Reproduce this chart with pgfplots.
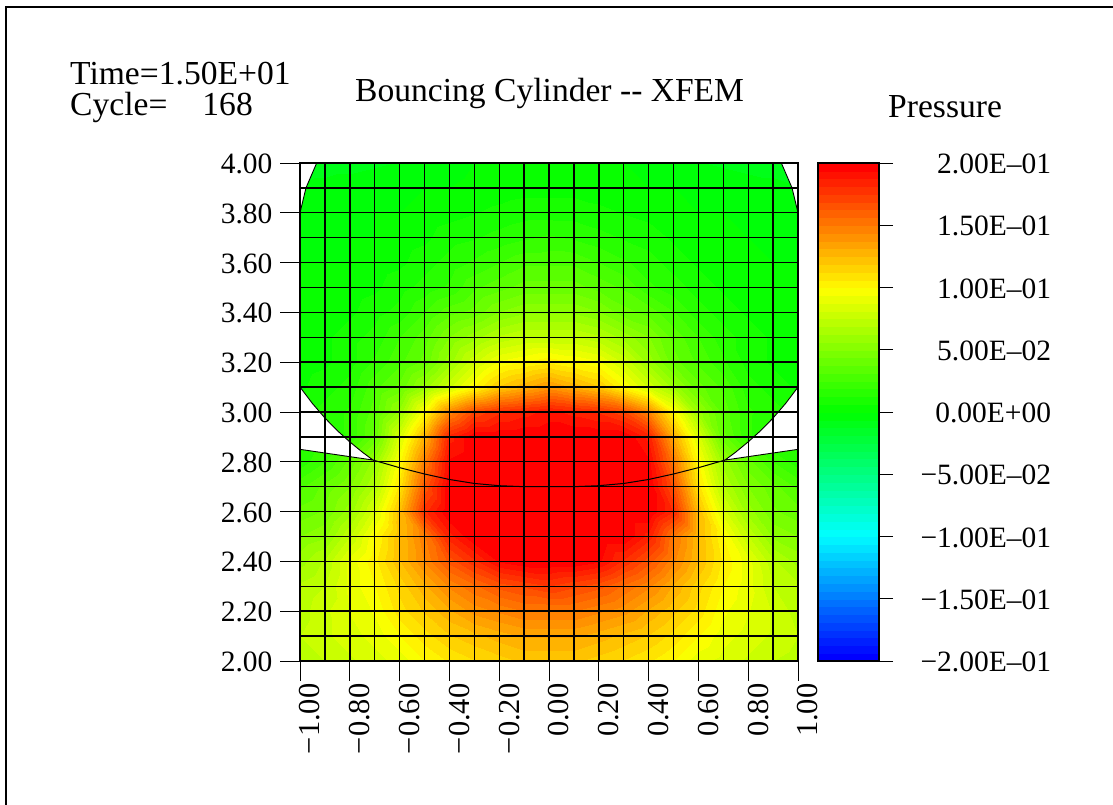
\documentclass[border=0pt]{standalone}
\usepackage{pgfplots}
\pgfplotsset{compat=1.18}
\usepackage{fontspec}
\setmainfont{Liberation Serif}
\pgfplotsset{
  colormap={rb0}{rgb255(0)=(0,0,255) rgb255(1)=(0,255,255) rgb255(2)=(0,255,0) rgb255(3)=(255,255,0) rgb255(4)=(255,0,0)},
  colormap={rb}{samples of colormap=(64 of rb0)},
}
\newcommand{\fs}{\fontsize{29.6}{36}\selectfont}
\newcommand{\fx}{\fontsize{30.6}{36}\selectfont}
\newcommand{\ft}{\fontsize{33.7}{38}\selectfont}
\begin{document}
\begin{tikzpicture}[x=1bp,y=1bp]
\useasboundingbox (0,0) rectangle (1113,805);
\draw[black,line width=2bp] (5.7,0) -- (5.7,798) -- (1113,798);
\begin{axis}[
  at={(300bp,144bp)},anchor=south west,
  scale only axis,width=498bp,height=498bp,
  xmin=-1,xmax=1,ymin=2,ymax=4,
  colormap name=rb,colormap access=piecewise constant,
  point meta min=-0.2,point meta max=0.2,
  xtick={-1,-0.8,-0.6,-0.4,-0.2,0,0.2,0.4,0.6,0.8,1},
  xticklabels={−1.00,−0.80,−0.60,−0.40,−0.20,0.00,0.20,0.40,0.60,0.80,1.00},
  ytick={2,2.2,2.4,2.6,2.8,3,3.2,3.4,3.6,3.8,4},
  yticklabels={2.00,2.20,2.40,2.60,2.80,3.00,3.20,3.40,3.60,3.80,4.00},
  minor xtick={-0.9,-0.7,-0.5,-0.3,-0.1,0.1,0.3,0.5,0.7,0.9},
  minor ytick={2.1,2.3,2.5,2.7,2.9,3.1,3.3,3.5,3.7,3.9},
  grid=both,
  major grid style={black,line width=1.4bp},
  minor grid style={black,line width=1.4bp},
  minor tick length=0pt,
  xtick pos=bottom,ytick pos=left,tick align=outside,
  major tick length=20bp,
  every tick/.style={black,line width=0.9bp},
  axis line style={black,line width=1.5bp},
  axis on top,
  tick label style={font=\fs},
  xticklabel style={font=\fx,rotate=90,anchor=east,xshift=1bp,yshift=-10bp},
  yticklabel style={anchor=east,xshift=-4bp,yshift=-1bp},
]
\addplot[surf,shader=interp,mesh/cols=21,point meta=explicit] coordinates {
(-1,2.0)[.072](-.9,2.0)[.075](-.8,2.0)[.08](-.7,2.0)[.085](-.6,2.0)[.09](-.5,2.0)[.10](-.4,2.0)[.107](-.3,2.0)[.112](-.2,2.0)[.116](-.1,2.0)[.12](0,2.0)[.12](.1,2.0)[.12](.2,2.0)[.116](.3,2.0)[.112](.4,2.0)[.107](.5,2.0)[.10](.6,2.0)[.09](.7,2.0)[.085](.8,2.0)[.08](.9,2.0)[.075](1,2.0)[.072]

(-1,2.1)[.075](-.9,2.1)[.08](-.8,2.1)[.085](-.7,2.1)[.09](-.6,2.1)[.10](-.5,2.1)[.11](-.4,2.1)[.118](-.3,2.1)[.123](-.2,2.1)[.128](-.1,2.1)[.132](0,2.1)[.132](.1,2.1)[.132](.2,2.1)[.128](.3,2.1)[.123](.4,2.1)[.118](.5,2.1)[.11](.6,2.1)[.10](.7,2.1)[.09](.8,2.1)[.085](.9,2.1)[.08](1,2.1)[.075]

(-1,2.2)[.072](-.9,2.2)[.08](-.8,2.2)[.088](-.7,2.2)[.095](-.6,2.2)[.11](-.5,2.2)[.12](-.4,2.2)[.13](-.3,2.2)[.14](-.2,2.2)[.145](-.1,2.2)[.15](0,2.2)[.15](.1,2.2)[.15](.2,2.2)[.145](.3,2.2)[.14](.4,2.2)[.13](.5,2.2)[.12](.6,2.2)[.11](.7,2.2)[.095](.8,2.2)[.088](.9,2.2)[.08](1,2.2)[.072]

(-1,2.3)[.07](-.9,2.3)[.075](-.8,2.3)[.09](-.7,2.3)[.10](-.6,2.3)[.115](-.5,2.3)[.13](-.4,2.3)[.145](-.3,2.3)[.155](-.2,2.3)[.165](-.1,2.3)[.17](0,2.3)[.175](.1,2.3)[.17](.2,2.3)[.165](.3,2.3)[.155](.4,2.3)[.145](.5,2.3)[.13](.6,2.3)[.115](.7,2.3)[.10](.8,2.3)[.09](.9,2.3)[.075](1,2.3)[.07]

(-1,2.4)[.06](-.9,2.4)[.07](-.8,2.4)[.09](-.7,2.4)[.105](-.6,2.4)[.125](-.5,2.4)[.145](-.4,2.4)[.165](-.3,2.4)[.18](-.2,2.4)[.195](-.1,2.4)[.2](0,2.4)[.2](.1,2.4)[.2](.2,2.4)[.195](.3,2.4)[.18](.4,2.4)[.165](.5,2.4)[.145](.6,2.4)[.125](.7,2.4)[.105](.8,2.4)[.09](.9,2.4)[.07](1,2.4)[.06]

(-1,2.5)[.05](-.9,2.5)[.055](-.8,2.5)[.075](-.7,2.5)[.10](-.6,2.5)[.125](-.5,2.5)[.15](-.4,2.5)[.185](-.3,2.5)[.2](-.2,2.5)[.2](-.1,2.5)[.2](0,2.5)[.2](.1,2.5)[.2](.2,2.5)[.2](.3,2.5)[.2](.4,2.5)[.185](.5,2.5)[.15](.6,2.5)[.125](.7,2.5)[.10](.8,2.5)[.075](.9,2.5)[.055](1,2.5)[.05]

(-1,2.6)[.04](-.9,2.6)[.045](-.8,2.6)[.06](-.7,2.6)[.085](-.6,2.6)[.125](-.5,2.6)[.18](-.4,2.6)[.2](-.3,2.6)[.2](-.2,2.6)[.2](-.1,2.6)[.2](0,2.6)[.2](.1,2.6)[.2](.2,2.6)[.2](.3,2.6)[.2](.4,2.6)[.2](.5,2.6)[.18](.6,2.6)[.125](.7,2.6)[.085](.8,2.6)[.06](.9,2.6)[.045](1,2.6)[.04]

(-1,2.7)[.03](-.9,2.7)[.04](-.8,2.7)[.05](-.7,2.7)[.07](-.6,2.7)[.11](-.5,2.7)[.165](-.4,2.7)[.2](-.3,2.7)[.2](-.2,2.7)[.2](-.1,2.7)[.2](0,2.7)[.2](.1,2.7)[.2](.2,2.7)[.2](.3,2.7)[.2](.4,2.7)[.2](.5,2.7)[.165](.6,2.7)[.11](.7,2.7)[.07](.8,2.7)[.05](.9,2.7)[.04](1,2.7)[.03]

(-1,2.8)[.015](-.9,2.8)[.025](-.8,2.8)[.04](-.7,2.8)[.06](-.6,2.8)[.10](-.5,2.8)[.15](-.4,2.8)[.195](-.3,2.8)[.2](-.2,2.8)[.2](-.1,2.8)[.2](0,2.8)[.2](.1,2.8)[.2](.2,2.8)[.2](.3,2.8)[.2](.4,2.8)[.195](.5,2.8)[.15](.6,2.8)[.10](.7,2.8)[.06](.8,2.8)[.04](.9,2.8)[.025](1,2.8)[.015]

(-1,2.9)[.01](-.9,2.9)[.01](-.8,2.9)[.02](-.7,2.9)[.04](-.6,2.9)[.085](-.5,2.9)[.13](-.4,2.9)[.185](-.3,2.9)[.2](-.2,2.9)[.2](-.1,2.9)[.2](0,2.9)[.2](.1,2.9)[.2](.2,2.9)[.2](.3,2.9)[.2](.4,2.9)[.185](.5,2.9)[.13](.6,2.9)[.085](.7,2.9)[.04](.8,2.9)[.02](.9,2.9)[.01](1,2.9)[.01]

(-1,3.0)[.01](-.9,3.0)[.015](-.8,3.0)[.02](-.7,3.0)[.035](-.6,3.0)[.06](-.5,3.0)[.10](-.4,3.0)[.145](-.3,3.0)[.17](-.2,3.0)[.18](-.1,3.0)[.185](0,3.0)[.19](.1,3.0)[.185](.2,3.0)[.18](.3,3.0)[.17](.4,3.0)[.145](.5,3.0)[.10](.6,3.0)[.06](.7,3.0)[.035](.8,3.0)[.02](.9,3.0)[.015](1,3.0)[.01]

(-1,3.1)[.005](-.9,3.1)[.01](-.8,3.1)[.015](-.7,3.1)[.03](-.6,3.1)[.04](-.5,3.1)[.06](-.4,3.1)[.08](-.3,3.1)[.10](-.2,3.1)[.12](-.1,3.1)[.13](0,3.1)[.14](.1,3.1)[.13](.2,3.1)[.12](.3,3.1)[.10](.4,3.1)[.08](.5,3.1)[.06](.6,3.1)[.04](.7,3.1)[.03](.8,3.1)[.015](.9,3.1)[.01](1,3.1)[.005]

(-1,3.2)[.003](-.9,3.2)[.005](-.8,3.2)[.01](-.7,3.2)[.02](-.6,3.2)[.03](-.5,3.2)[.04](-.4,3.2)[.06](-.3,3.2)[.08](-.2,3.2)[.095](-.1,3.2)[.10](0,3.2)[.105](.1,3.2)[.10](.2,3.2)[.095](.3,3.2)[.08](.4,3.2)[.06](.5,3.2)[.04](.6,3.2)[.03](.7,3.2)[.02](.8,3.2)[.01](.9,3.2)[.005](1,3.2)[.003]

(-1,3.3)[.003](-.9,3.3)[.005](-.8,3.3)[.01](-.7,3.3)[.015](-.6,3.3)[.025](-.5,3.3)[.035](-.4,3.3)[.05](-.3,3.3)[.06](-.2,3.3)[.07](-.1,3.3)[.075](0,3.3)[.075](.1,3.3)[.075](.2,3.3)[.07](.3,3.3)[.06](.4,3.3)[.05](.5,3.3)[.035](.6,3.3)[.025](.7,3.3)[.015](.8,3.3)[.01](.9,3.3)[.005](1,3.3)[.003]

(-1,3.4)[0](-.9,3.4)[0](-.8,3.4)[.005](-.7,3.4)[.01](-.6,3.4)[.015](-.5,3.4)[.025](-.4,3.4)[.035](-.3,3.4)[.04](-.2,3.4)[.05](-.1,3.4)[.055](0,3.4)[.055](.1,3.4)[.055](.2,3.4)[.05](.3,3.4)[.04](.4,3.4)[.035](.5,3.4)[.025](.6,3.4)[.015](.7,3.4)[.01](.8,3.4)[.005](.9,3.4)[0](1,3.4)[0]

(-1,3.5)[0](-.9,3.5)[0](-.8,3.5)[.003](-.7,3.5)[.005](-.6,3.5)[.01](-.5,3.5)[.015](-.4,3.5)[.02](-.3,3.5)[.03](-.2,3.5)[.035](-.1,3.5)[.04](0,3.5)[.04](.1,3.5)[.04](.2,3.5)[.035](.3,3.5)[.03](.4,3.5)[.02](.5,3.5)[.015](.6,3.5)[.01](.7,3.5)[.005](.8,3.5)[.003](.9,3.5)[0](1,3.5)[0]

(-1,3.6)[0](-.9,3.6)[0](-.8,3.6)[0](-.7,3.6)[.003](-.6,3.6)[.005](-.5,3.6)[.01](-.4,3.6)[.015](-.3,3.6)[.02](-.2,3.6)[.025](-.1,3.6)[.03](0,3.6)[.03](.1,3.6)[.03](.2,3.6)[.025](.3,3.6)[.02](.4,3.6)[.015](.5,3.6)[.01](.6,3.6)[.005](.7,3.6)[.003](.8,3.6)[0](.9,3.6)[0](1,3.6)[0]

(-1,3.7)[-.005](-.9,3.7)[-.002](-.8,3.7)[0](-.7,3.7)[0](-.6,3.7)[.003](-.5,3.7)[.005](-.4,3.7)[.01](-.3,3.7)[.012](-.2,3.7)[.015](-.1,3.7)[.018](0,3.7)[.02](.1,3.7)[.018](.2,3.7)[.015](.3,3.7)[.012](.4,3.7)[.01](.5,3.7)[.005](.6,3.7)[.003](.7,3.7)[0](.8,3.7)[0](.9,3.7)[-.002](1,3.7)[-.005]

(-1,3.8)[-.005](-.9,3.8)[-.003](-.8,3.8)[-.002](-.7,3.8)[0](-.6,3.8)[0](-.5,3.8)[.002](-.4,3.8)[.004](-.3,3.8)[.006](-.2,3.8)[.008](-.1,3.8)[.01](0,3.8)[.01](.1,3.8)[.01](.2,3.8)[.008](.3,3.8)[.006](.4,3.8)[.004](.5,3.8)[.002](.6,3.8)[0](.7,3.8)[0](.8,3.8)[-.002](.9,3.8)[-.003](1,3.8)[-.005]

(-1,3.9)[-.006](-.9,3.9)[-.005](-.8,3.9)[-.004](-.7,3.9)[-.003](-.6,3.9)[-.002](-.5,3.9)[0](-.4,3.9)[0](-.3,3.9)[.002](-.2,3.9)[.003](-.1,3.9)[.004](0,3.9)[.004](.1,3.9)[.004](.2,3.9)[.003](.3,3.9)[.002](.4,3.9)[0](.5,3.9)[0](.6,3.9)[-.002](.7,3.9)[-.003](.8,3.9)[-.004](.9,3.9)[-.005](1,3.9)[-.006]

(-1,4.0)[-.008](-.9,4.0)[-.008](-.8,4.0)[-.008](-.7,4.0)[-.007](-.6,4.0)[-.006](-.5,4.0)[-.004](-.4,4.0)[-.003](-.3,4.0)[0](-.2,4.0)[0](-.1,4.0)[0](0,4.0)[0](.1,4.0)[0](.2,4.0)[0](.3,4.0)[0](.4,4.0)[-.003](.5,4.0)[-.004](.6,4.0)[-.006](.7,4.0)[-.007](.8,4.0)[-.008](.9,4.0)[-.008](1,4.0)[-.008]
};
\addplot[fill=white,draw=black,line width=0.9bp] coordinates {(-1,3.1)(-.95,3.034)(-.9,2.976)(-.85,2.925)(-.8,2.88)(-.75,2.839)(-.707,2.807)(-1,2.85)} -- cycle;
\addplot[fill=white,draw=black,line width=0.9bp] coordinates {(1,3.1)(.95,3.034)(.9,2.976)(.85,2.925)(.8,2.88)(.75,2.839)(.707,2.807)(1,2.85)} -- cycle;
\addplot[fill=white,draw=black,line width=0.9bp] coordinates {(-1,4)(-.933,4)(-.976,3.9)(-1,3.8)} -- cycle;
\addplot[fill=white,draw=black,line width=0.9bp] coordinates {(1,4)(.933,4)(.976,3.9)(1,3.8)} -- cycle;
\addplot[black,line width=1bp] coordinates {(-.707,2.807)(-.606,2.778)(-.5,2.751)(-.4,2.729)(-.3,2.713)(-.2,2.704)(-.1,2.70)(0,2.70)(.1,2.70)(.2,2.704)(.3,2.713)(.4,2.729)(.5,2.751)(.606,2.778)(.707,2.807)};
\end{axis}
\begin{axis}[
  at={(818bp,144bp)},anchor=south west,
  scale only axis,width=61bp,height=498bp,
  xmin=0,xmax=1,ymin=-0.2,ymax=0.2,
  colormap name=rb,colormap access=piecewise constant,
  point meta min=-0.2,point meta max=0.2,
  xtick=\empty,
  ytick={-0.2,-0.15,-0.1,-0.05,0,0.05,0.1,0.15,0.2},
  yticklabels={−2.00E–01,−1.50E–01,−1.00E–01,−5.00E–02,0.00E+00,5.00E–02,1.00E–01,1.50E–01,2.00E–01},
  ytick pos=right,tick align=outside,
  major tick length=14bp,
  every tick/.style={black,line width=0.9bp},
  axis line style={black,line width=1.6bp},
  axis on top,
  tick label style={font=\fs},
  yticklabel style={anchor=east,xshift=161.5bp,yshift=-1bp},
]
\addplot[surf,shader=flat mean,mesh/cols=2,point meta=y] coordinates {
(0,-.2)(1,-.2)
(0,-.19375)(1,-.19375)
(0,-.1875)(1,-.1875)
(0,-.18125)(1,-.18125)
(0,-.175)(1,-.175)
(0,-.16875)(1,-.16875)
(0,-.1625)(1,-.1625)
(0,-.15625)(1,-.15625)
(0,-.15)(1,-.15)
(0,-.14375)(1,-.14375)
(0,-.1375)(1,-.1375)
(0,-.13125)(1,-.13125)
(0,-.125)(1,-.125)
(0,-.11875)(1,-.11875)
(0,-.1125)(1,-.1125)
(0,-.10625)(1,-.10625)
(0,-.1)(1,-.1)
(0,-.09375)(1,-.09375)
(0,-.0875)(1,-.0875)
(0,-.08125)(1,-.08125)
(0,-.075)(1,-.075)
(0,-.06875)(1,-.06875)
(0,-.0625)(1,-.0625)
(0,-.05625)(1,-.05625)
(0,-.05)(1,-.05)
(0,-.04375)(1,-.04375)
(0,-.0375)(1,-.0375)
(0,-.03125)(1,-.03125)
(0,-.025)(1,-.025)
(0,-.01875)(1,-.01875)
(0,-.0125)(1,-.0125)
(0,-.00625)(1,-.00625)
(0,0)(1,0)
(0,.00625)(1,.00625)
(0,.0125)(1,.0125)
(0,.01875)(1,.01875)
(0,.025)(1,.025)
(0,.03125)(1,.03125)
(0,.0375)(1,.0375)
(0,.04375)(1,.04375)
(0,.05)(1,.05)
(0,.05625)(1,.05625)
(0,.0625)(1,.0625)
(0,.06875)(1,.06875)
(0,.075)(1,.075)
(0,.08125)(1,.08125)
(0,.0875)(1,.0875)
(0,.09375)(1,.09375)
(0,.1)(1,.1)
(0,.10625)(1,.10625)
(0,.1125)(1,.1125)
(0,.11875)(1,.11875)
(0,.125)(1,.125)
(0,.13125)(1,.13125)
(0,.1375)(1,.1375)
(0,.14375)(1,.14375)
(0,.15)(1,.15)
(0,.15625)(1,.15625)
(0,.1625)(1,.1625)
(0,.16875)(1,.16875)
(0,.175)(1,.175)
(0,.18125)(1,.18125)
(0,.1875)(1,.1875)
(0,.19375)(1,.19375)
(0,.2)(1,.2)
};
\end{axis}
\node[anchor=base west,inner sep=0pt,font=\ft] at (70,720) {Time=1.50E+01};
\node[anchor=base west,inner sep=0pt,font=\ft] at (70,689) {Cycle=\hspace{35bp}168};
\node[anchor=base west,inner sep=0pt,font=\ft] at (355,703) {Bouncing Cylinder -{}- XFEM};
\node[anchor=base west,inner sep=0pt,font=\ft] at (888,687) {Pressure};
\end{tikzpicture}
\end{document}
